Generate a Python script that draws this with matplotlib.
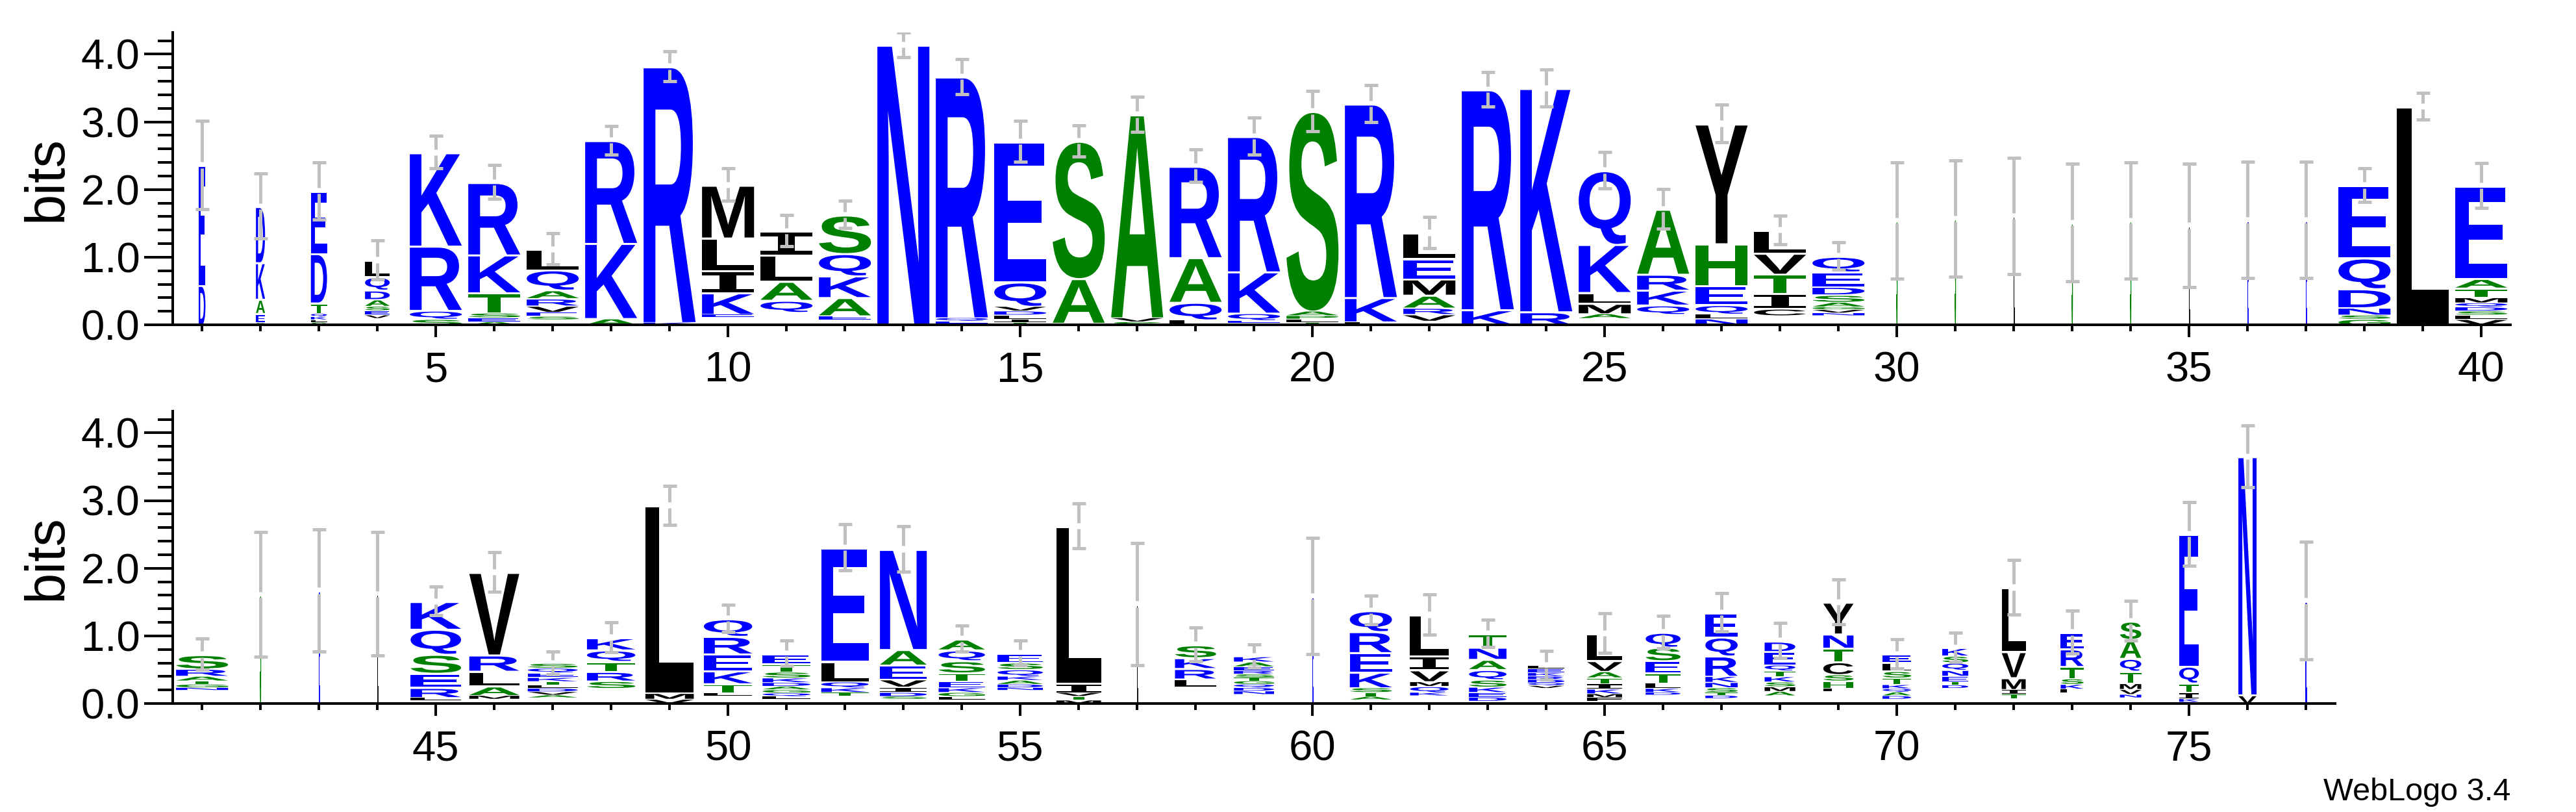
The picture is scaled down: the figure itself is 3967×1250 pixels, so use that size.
# Sequence logo (WebLogo 3.4 style), two rows: positions 1-40 and 41-77
import matplotlib
matplotlib.use("Agg")
import matplotlib.pyplot as plt
from matplotlib.textpath import TextPath
from matplotlib.font_manager import FontProperties
from matplotlib.patches import PathPatch
from matplotlib.transforms import Affine2D
from matplotlib.ticker import MultipleLocator, FixedLocator

# ---- data: letters of every stack (bottom -> top), '.' = invisible tiny letters
top_letters = [
    "DE", "SEAKD", "SLKQTDE", ".VESADQL", "SQRK", "AESTKR", ".SEVRAQL", "AKR",
    "KR", ".EKILM", ".QALI", ".EAKQS", "N", ".EQR", "TILDVQE", "TAS",
    "SVA", "LQAR", ".EQKR", "TLPAS", "LKR", ".VRAMEL", "KR", "RK",
    ".AMLKQ", ".QKRA", "NLQEHY", ".CITVL", ".NVGASDEQ", "S", "S", "L",
    "S", "S", "L", "E", "E", "GSNDQE", "L", "VLSDQMTAE",
]
top_heights = [
    [0.59, 1.77], [0.035, 0.14, 0.21, 0.54, 0.83],
    [0.04, 0.04, 0.045, 0.045, 0.16, 0.73, 0.92],
    [0.10, 0.05, 0.065, 0.065, 0.10, 0.14, 0.20, 0.24],
    [0.09, 0.13, 0.95, 1.38], [0.05, 0.06, 0.07, 0.30, 0.56, 1.07],
    [0.08, 0.05, 0.06, 0.095, 0.11, 0.125, 0.30, 0.30], [0.10, 1.11, 1.52],
    [0.04, 3.78], [0.12, 0.04, 0.32, 0.33, 0.48, 0.78],
    [0.19, 0.18, 0.28, 0.39, 0.35], [0.08, 0.06, 0.27, 0.32, 0.33, 0.57],
    [4.14], [0.02, 0.04, 0.05, 3.56],
    [0.04, 0.05, 0.06, 0.06, 0.07, 0.36, 2.07], [0.03, 0.66, 2.03],
    [0.05, 0.06, 3.00], [0.08, 0.26, 0.66, 1.35],
    [0.03, 0.04, 0.11, 0.61, 2.00], [0.04, 0.05, 0.05, 0.07, 2.95],
    [0.05, 0.36, 2.86], [0.06, 0.10, 0.095, 0.19, 0.24, 0.30, 0.38],
    [0.23, 3.25], [0.20, 3.30],
    [0.10, 0.07, 0.155, 0.16, 0.71, 1.09], [0.16, 0.14, 0.22, 0.235, 0.96],
    [0.10, 0.065, 0.14, 0.28, 0.62, 1.77], [0.14, 0.105, 0.23, 0.28, 0.31, 0.34],
    [0.14, 0.04, 0.05, 0.04, 0.07, 0.11, 0.12, 0.22, 0.23],
    [1.54], [1.57], [1.61], [1.51], [1.54], [1.47], [1.55], [1.55],
    [0.09, 0.06, 0.11, 0.28, 0.455, 1.07], [3.23],
    [0.09, 0.06, 0.06, 0.06, 0.06, 0.08, 0.14, 0.14, 1.37],
]
top_errors = [
    0.65, 0.48, 0.42, 0.29, 0.24, 0.25, 0.23, 0.21, 0.22, 0.24,
    0.23, 0.20, 0.18, 0.26, 0.30, 0.23, 0.26, 0.24, 0.27, 0.30,
    0.27, 0.23, 0.25, 0.27, 0.265, 0.29, 0.275, 0.21, 0.20, 0.86,
    0.86, 0.86, 0.87, 0.86, 0.91, 0.86, 0.855, 0.25, 0.20, 0.33,
]
# fraction of non-gap sequences (scales the stack width)
top_occupancy = [0.13, 0.175, 0.31, 0.475] + [1.0] * 25 + [0.015] * 8 + [1.0] * 3

bottom_letters = [
    ".NGTARS", "S", "E", "L", ".LRESQK", ".MALRV", ".AVDLTKEQS", ".SRTQK",
    "VML", ".LTKERQ", ".LQGADKSTE", ".TKQLE", ".SDIVEAN", ".LGKETSQA",
    ".NDAKQSE", "MTVIL", "L", ".LRKS", ".NDQGTSREAK", "E", ".ATSKERQ",
    ".KQMVIL", ".DEKSQANT", ".VQDRKEL", ".FMKITAVL", ".DKLTESQ", ".DTSNKRQE",
    ".AMSKTQED", ".LHSCTNY", ".DAQKTSLE", ".DTENQSK", ".TIMVL", ".LKSTRE",
    ".NVMTQAS", "DKITQE", "VN", "E",
]
bottom_heights = [
    [0.20, 0.04, 0.05, 0.05, 0.07, 0.11, 0.21], [1.61], [1.67], [1.62],
    [0.05, 0.045, 0.15, 0.21, 0.28, 0.37, 0.41], [0.07, 0.055, 0.14, 0.22, 0.24, 1.22],
    [0.09, 0.04, 0.05, 0.05, 0.05, 0.05, 0.06, 0.07, 0.07, 0.07],
    [0.23, 0.11, 0.14, 0.15, 0.17, 0.18], [0.07, 0.09, 2.77],
    [0.12, 0.045, 0.135, 0.19, 0.25, 0.26, 0.26],
    [0.07, 0.04, 0.05, 0.05, 0.05, 0.055, 0.07, 0.09, 0.12, 0.15],
    [0.12, 0.05, 0.07, 0.09, 0.30, 1.68],
    [0.07, 0.04, 0.06, 0.08, 0.115, 0.21, 0.23, 1.48],
    [0.06, 0.05, 0.06, 0.07, 0.10, 0.12, 0.18, 0.16, 0.16],
    [0.20, 0.04, 0.05, 0.06, 0.06, 0.10, 0.10, 0.14],
    [0.056, 0.056, 0.056, 0.135, 2.32], [1.47],
    [0.25, 0.12, 0.155, 0.16, 0.19],
    [0.14, 0.05, 0.05, 0.05, 0.05, 0.05, 0.05, 0.05, 0.06, 0.07, 0.08], [1.59],
    [0.06, 0.05, 0.06, 0.07, 0.23, 0.29, 0.31, 0.31],
    [0.12, 0.05, 0.09, 0.07, 0.175, 0.21, 0.60],
    [0.04, 0.06, 0.07, 0.08, 0.11, 0.15, 0.15, 0.18, 0.20],
    [0.23, 0.04, 0.04, 0.05, 0.05, 0.05, 0.06, 0.05],
    [0.04, 0.055, 0.055, 0.07, 0.08, 0.087, 0.095, 0.16, 0.40],
    [0.13, 0.04, 0.06, 0.08, 0.15, 0.18, 0.20, 0.22],
    [0.08, 0.045, 0.045, 0.07, 0.08, 0.09, 0.30, 0.28, 0.36],
    [0.12, 0.065, 0.07, 0.07, 0.08, 0.085, 0.09, 0.195, 0.155],
    [0.18, 0.05, 0.11, 0.095, 0.19, 0.20, 0.21, 0.47],
    [0.07, 0.05, 0.055, 0.05, 0.06, 0.10, 0.10, 0.13, 0.12],
    [0.23, 0.05, 0.05, 0.08, 0.09, 0.11, 0.10, 0.12],
    [0.08, 0.064, 0.07, 0.175, 0.385, 0.945],
    [0.16, 0.06, 0.07, 0.085, 0.18, 0.26, 0.24],
    [0.09, 0.05, 0.075, 0.09, 0.18, 0.19, 0.28, 0.27],
    [0.03, 0.045, 0.095, 0.14, 0.25, 1.95], [0.135, 3.52], [1.52],
]
bottom_errors = [
    0.23, 0.92, 0.90, 0.91, 0.21, 0.29, 0.165, 0.22, 0.29, 0.20,
    0.19, 0.34, 0.335, 0.19, 0.18, 0.33, 0.90, 0.25, 0.17, 0.86,
    0.21, 0.30, 0.20, 0.21, 0.29, 0.24, 0.285, 0.26, 0.33, 0.22,
    0.22, 0.40, 0.32, 0.295, 0.47, 0.455, 0.87,
]
bottom_occupancy = [
    1.0, 0.015, 0.015, 0.015, 0.97, 0.96, 0.96, 0.93, 0.93, 0.93,
    0.92, 0.91, 0.90, 0.89, 0.87, 0.86, 0.015, 0.79, 0.77, 0.015,
    0.81, 0.74, 0.72, 0.70, 0.67, 0.67, 0.62, 0.59, 0.58, 0.55,
    0.50, 0.46, 0.44, 0.41, 0.38, 0.35, 0.015,
]

# hydrophobicity colour scheme
colors = {}
for aa in "RKDENQ":
    colors[aa] = "#0000FF"
for aa in "SGHTAP":
    colors[aa] = "#008000"
for aa in "YVMCLFIW":
    colors[aa] = "#000000"

plt.rcParams['font.family'] = ['Liberation Sans', 'DejaVu Sans']

letter_font = FontProperties(family='Liberation Sans', weight='bold')
serif_i_font = FontProperties(family='DejaVu Sans Mono', weight='bold')
glyphs = {}


def draw_letter(ax, ch, x0, y0, w, h, thin=False):
    if ch not in glyphs:
        fp = serif_i_font if ch == 'I' else letter_font
        glyphs[ch] = TextPath((0, 0), ch, size=100, prop=fp)
    path = glyphs[ch]
    ext = path.get_extents()
    hh = h - min(0.03, 0.2 * h)   # small gap between stacked letters
    tr = Affine2D().translate(-ext.x0, -ext.y0) \
        .scale(w / ext.width, hh / ext.height).translate(x0, y0)
    # nearly empty columns are only a hairline wide: give them an outline
    ax.add_patch(PathPatch(tr.transform_path(path), facecolor=colors[ch],
                           edgecolor=colors[ch] if thin else 'none',
                           lw=0.6 if thin else 0))


def draw_logo(ax, first, letters, heights, occupancy, errors):
    for i in range(len(letters)):
        x = first + i
        w = 0.89 * occupancy[i]
        y = 0.0
        for ch, h in zip(letters[i], heights[i]):
            if ch != '.':
                draw_letter(ax, ch, x - w / 2, y, w, h, thin=occupancy[i] < 0.05)
            y += h
        # error bar round the stack top, with a small break at the top itself
        err = errors[i]
        gap = 0.045
        kw = dict(color='#C0C0C0', lw=3.6, solid_capstyle='butt', zorder=5)
        ax.plot([x, x], [y + gap, y + err], **kw)
        ax.plot([x, x], [y - err, y - gap], **kw)
        ax.plot([x - 0.117, x + 0.117], [y + err, y + err], **kw)
        ax.plot([x - 0.117, x + 0.117], [y - err, y - err], **kw)


def style_axes(ax, lo, hi):
    ax.set_xlim(lo, hi)
    ax.set_ylim(0, 4.32)
    for s in ['top', 'right']:
        ax.spines[s].set_visible(False)
    for s in ['left', 'bottom']:
        ax.spines[s].set_linewidth(2.9)
    ax.yaxis.set_major_locator(FixedLocator([0, 1, 2, 3, 4]))
    ax.yaxis.set_minor_locator(MultipleLocator(0.2))
    ax.set_yticklabels(["0.0", "1.0", "2.0", "3.0", "4.0"])
    ax.xaxis.set_major_locator(MultipleLocator(5))
    ax.xaxis.set_minor_locator(MultipleLocator(1))
    ax.tick_params(axis='y', which='major', length=31.5, width=2.9, pad=5, labelsize=47)
    ax.tick_params(axis='y', which='minor', length=16.5, width=2.9)
    ax.tick_params(axis='x', which='major', length=14, width=2.9, pad=15, labelsize=47)
    ax.tick_params(axis='x', which='minor', length=7, width=2.9)


fig = plt.figure(figsize=(39.67, 12.5), dpi=100)
ax1 = fig.add_axes([0.0671, 0.600, 0.9075, 0.360])
ax2 = fig.add_axes([0.0671, 0.1336, 0.8394, 0.360])

draw_logo(ax1, 1, top_letters, top_heights, top_occupancy, top_errors)
draw_logo(ax2, 41, bottom_letters, bottom_heights, bottom_occupancy, bottom_errors)
style_axes(ax1, 0.5, 40.5)
style_axes(ax2, 40.5, 77.5)

fig.text(0.0182, 0.78, "bits", rotation=90, ha='center', va='center', fontsize=61)
fig.text(0.0182, 0.3136, "bits", rotation=90, ha='center', va='center', fontsize=61)
fig.text(0.9746, 0.0144, "WebLogo 3.4", ha='right', va='baseline', fontsize=35)

fig.savefig("out.png", dpi=100)
